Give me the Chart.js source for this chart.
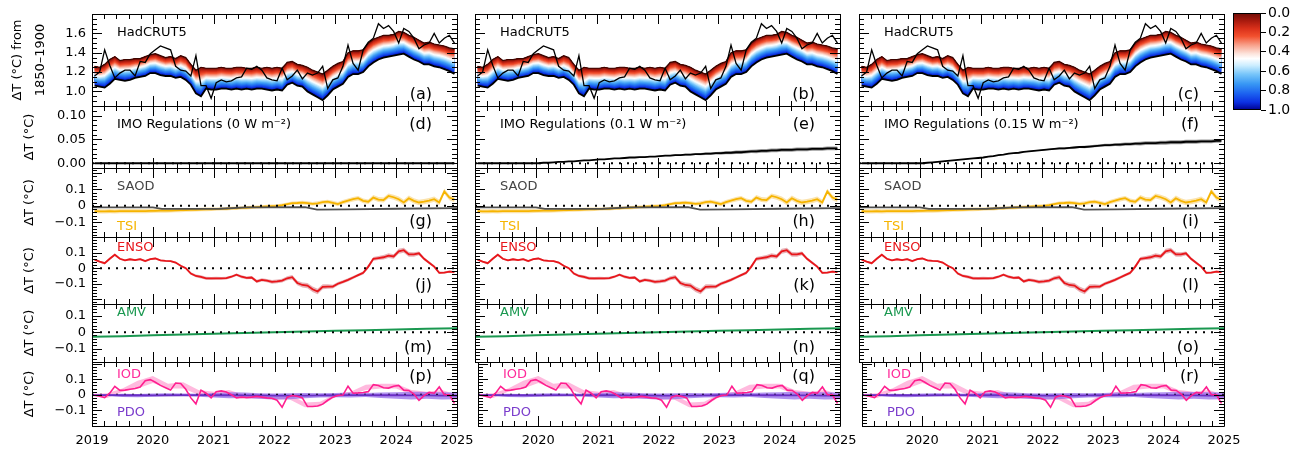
<!DOCTYPE html>
<html>
<head>
<meta charset="utf-8">
<script src="https://cdn.jsdelivr.net/npm/chart.js@4.4.1/dist/chart.umd.min.js"></script>
<style>
  html, body { margin: 0; padding: 0; background: #fff; }
  body { width: 1306px; height: 451px; position: relative; overflow: hidden; }
  canvas { position: absolute; }
</style>
</head>
<body>
<script>
const FONT = "'DejaVu Sans', sans-serif";
Chart.defaults.font.family = FONT;
Chart.defaults.color = '#000';

// monthly time axis, Jan 2019 .. Dec 2024
const months = Array.from({length: 72}, (_, i) => 2019 + (i + 0.5) / 12);
const quarters = Array.from({length: 25}, (_, i) => 2019 + i * 0.25);
const halfYears = Array.from({length: 13}, (_, i) => 2019 + i * 0.5);

const hadcrut = [
  1.16,1.20,1.43,1.27,1.14,1.19,1.22,1.22,1.16,1.31,1.30,1.39,
  1.43,1.47,1.45,1.43,1.26,1.22,1.21,1.16,1.37,1.06,1.06,0.93,
  1.09,1.12,1.10,1.11,1.14,1.15,1.24,1.23,1.26,1.22,1.14,1.12,
  1.11,1.24,1.12,1.16,1.22,1.13,1.19,1.17,1.19,1.26,1.03,1.12,
  1.14,1.26,1.48,1.29,1.22,1.43,1.51,1.55,1.70,1.65,1.68,1.62,
  1.50,1.65,1.62,1.55,1.44,1.48,1.50,1.60,1.50,1.55,1.58,1.50
];
const modelUpper = [
  1.26,1.25,1.28,1.33,1.36,1.32,1.33,1.33,1.34,1.34,1.36,1.38,
  1.39,1.37,1.35,1.36,1.34,1.37,1.35,1.28,1.22,1.25,1.24,1.24,
  1.24,1.25,1.24,1.24,1.25,1.25,1.24,1.24,1.25,1.24,1.25,1.24,
  1.25,1.24,1.30,1.31,1.28,1.27,1.25,1.22,1.20,1.18,1.22,1.26,
  1.29,1.31,1.40,1.42,1.42,1.43,1.50,1.54,1.56,1.58,1.58,1.59,
  1.62,1.61,1.58,1.56,1.53,1.50,1.51,1.49,1.48,1.47,1.45,1.44
];
const modelLower = [
  1.06,1.05,1.04,1.08,1.13,1.12,1.11,1.12,1.14,1.15,1.16,1.19,
  1.19,1.17,1.16,1.16,1.14,1.15,1.12,1.07,0.98,0.95,1.03,1.02,
  1.02,1.03,1.03,1.02,1.03,1.02,1.03,1.02,1.03,1.03,1.02,1.01,
  1.02,1.01,1.07,1.09,1.06,1.05,1.00,0.97,0.94,0.91,0.96,1.02,
  1.05,1.08,1.15,1.18,1.18,1.20,1.26,1.30,1.33,1.35,1.36,1.37,
  1.38,1.39,1.36,1.33,1.31,1.28,1.28,1.26,1.25,1.23,1.21,1.18
];

const imo0 = [
  0,0,0,0,0,0,0,0,0,0,0,0, 0,0,0,0,0,0,0,0,0,0,0,0, 0,0,0,0,0,0,0,0,0,0,0,0,
  0,0,0,0,0,0,0,0,0,0,0,0, 0,0,0,0,0,0,0,0,0,0,0,0, 0,0,0,0,0,0,0,0,0,0,0,0
];
const imo01 = [
  0,0,0,0,0,0,0,0,0,0,0,0,
  0.000,0.001,0.001,0.002,0.003,0.003,0.004,0.004,0.005,0.006,0.006,0.007,
  0.008,0.008,0.009,0.010,0.010,0.011,0.012,0.012,0.013,0.013,0.014,0.014,
  0.015,0.016,0.016,0.017,0.017,0.018,0.018,0.019,0.019,0.020,0.020,0.021,
  0.021,0.022,0.022,0.023,0.023,0.024,0.025,0.025,0.026,0.026,0.027,0.027,
  0.028,0.028,0.028,0.029,0.029,0.029,0.030,0.030,0.030,0.031,0.031,0.031
];
const imo015 = [
  0,0,0,0,0,0,0,0,0,0,0,0,
  0.000,0.001,0.002,0.003,0.004,0.005,0.006,0.007,0.008,0.009,0.010,0.011,
  0.012,0.014,0.015,0.017,0.018,0.020,0.021,0.022,0.024,0.025,0.026,0.027,
  0.028,0.029,0.030,0.031,0.031,0.032,0.033,0.034,0.034,0.035,0.036,0.037,
  0.038,0.038,0.039,0.039,0.040,0.040,0.041,0.041,0.042,0.042,0.042,0.043,
  0.043,0.044,0.044,0.044,0.045,0.045,0.045,0.046,0.046,0.046,0.047,0.047
];
const imoSpread = [
  0,0,0,0,0,0,0,0,0,0,0,0,
  0.0005,0.0005,0.0005,0.0005,0.0005,0.0005,0.0005,0.0005,0.0005,0.0005,0.0005,0.0005,
  0.001,0.001,0.001,0.001,0.001,0.001,0.001,0.001,0.001,0.001,0.001,0.001,
  0.0015,0.0015,0.0015,0.002,0.002,0.002,0.002,0.002,0.0025,0.0025,0.0025,0.0025,
  0.003,0.003,0.003,0.0035,0.0035,0.0035,0.0035,0.004,0.004,0.004,0.004,0.004,
  0.004,0.004,0.004,0.004,0.004,0.004,0.004,0.004,0.004,0.004,0.004,0.004
];

const saodYears = [2019.0, 2020.0, 2020.15, 2021.1, 2021.55, 2022.5, 2022.7, 2023.2, 2024.0, 2025.0];
const saod = [-0.010, -0.010, -0.019, -0.018, -0.010, -0.008, -0.023, -0.022, -0.018, -0.014];

const tsi = [
  -0.033,-0.034,-0.034,-0.033,-0.034,-0.033,-0.032,-0.033,-0.032,-0.032,-0.032,-0.031,
  -0.031,-0.030,-0.030,-0.029,-0.028,-0.027,-0.026,-0.025,-0.024,-0.023,-0.022,-0.021,
  -0.020,-0.019,-0.018,-0.016,-0.015,-0.013,-0.012,-0.010,-0.008,-0.006,-0.004,-0.002,
  0.000,0.004,0.010,0.016,0.017,0.019,0.016,0.012,0.015,0.022,0.025,0.018,
  0.010,0.022,0.032,0.040,0.046,0.030,0.025,0.050,0.038,0.035,0.060,0.052,
  0.040,0.020,0.046,0.030,0.020,0.025,0.032,0.040,0.020,0.087,0.050,0.038
];
const tsiSpread = [
  0.013,0.013,0.013,0.013,0.013,0.013,0.013,0.013,0.013,0.013,0.013,0.013,
  0.012,0.012,0.012,0.012,0.012,0.012,0.011,0.011,0.011,0.011,0.011,0.011,
  0.010,0.010,0.010,0.010,0.010,0.010,0.010,0.010,0.010,0.010,0.010,0.010,
  0.010,0.010,0.010,0.010,0.011,0.011,0.011,0.011,0.012,0.012,0.012,0.012,
  0.013,0.013,0.013,0.014,0.014,0.014,0.014,0.015,0.015,0.015,0.015,0.015,
  0.016,0.016,0.016,0.016,0.016,0.016,0.016,0.016,0.016,0.016,0.016,0.016
];

const enso = [
  0.055,0.042,0.032,0.060,0.086,0.060,0.050,0.057,0.052,0.058,0.045,0.058,
  0.062,0.050,0.047,0.045,0.036,0.015,0.000,-0.035,-0.050,-0.056,-0.065,-0.066,
  -0.065,-0.066,-0.064,-0.055,-0.042,-0.055,-0.062,-0.060,-0.085,-0.075,-0.080,-0.088,
  -0.085,-0.080,-0.065,-0.058,-0.095,-0.108,-0.112,-0.135,-0.150,-0.120,-0.118,-0.118,
  -0.100,-0.088,-0.075,-0.060,-0.045,-0.030,0.010,0.060,0.065,0.070,0.080,0.075,
  0.108,0.115,0.088,0.088,0.095,0.060,0.035,0.010,-0.030,-0.028,-0.022,-0.025
];
const ensoSpread = [
  0.006,0.006,0.008,0.008,0.007,0.006,0.006,0.006,0.006,0.007,0.007,0.006,
  0.006,0.006,0.006,0.006,0.006,0.006,0.007,0.008,0.009,0.010,0.010,0.010,
  0.010,0.009,0.009,0.008,0.008,0.009,0.009,0.010,0.010,0.011,0.011,0.012,
  0.012,0.012,0.013,0.014,0.015,0.016,0.017,0.018,0.018,0.016,0.014,0.012,
  0.011,0.010,0.010,0.009,0.009,0.010,0.012,0.012,0.013,0.014,0.015,0.015,
  0.016,0.016,0.015,0.014,0.012,0.010,0.009,0.008,0.008,0.007,0.007,0.007
];

const amv = [-0.028, -0.024, -0.019, -0.014, -0.010, -0.005, -0.001, 0.004, 0.008, 0.012, 0.016, 0.020, 0.023];

const iod = [
  -0.002,-0.010,-0.018,0.010,0.054,0.028,0.030,0.035,0.040,0.050,0.090,0.097,
  0.080,0.060,0.045,0.030,0.075,0.072,0.035,-0.020,-0.058,0.030,0.010,-0.020,
  0.020,0.025,0.018,0.000,-0.020,-0.015,-0.018,-0.015,-0.010,-0.015,-0.020,-0.022,
  -0.035,-0.080,-0.015,-0.005,-0.010,-0.020,-0.075,-0.075,-0.072,-0.060,-0.035,-0.015,
  -0.005,-0.002,0.055,0.010,0.012,0.015,0.020,0.065,0.060,0.045,0.043,0.055,
  0.060,0.030,0.028,0.005,-0.036,-0.005,0.015,0.010,0.050,0.000,0.000,-0.055
];
const iodLow = [-0.010,-0.020,0.020,0.040,0.075,0.040,0.040,0.000,-0.010,0.000,-0.020,-0.025,-0.030,-0.030,-0.080,-0.075,-0.015,0.000,0.030,0.040,0.040,0.000,-0.010,0.000,-0.030];
const iodHigh = [0.005,0.010,0.040,0.090,0.120,0.070,0.080,0.030,0.020,0.030,0.000,-0.005,-0.010,0.000,-0.050,-0.045,0.005,0.020,0.065,0.070,0.070,0.030,0.020,0.030,0.000];

const pdo = [-0.002,-0.002,-0.003,-0.003,-0.004,-0.003,-0.003,-0.002,-0.003,-0.003,-0.004,-0.004,-0.005,-0.005,-0.005,-0.004,-0.003,-0.002,-0.002,-0.003,-0.003,-0.004,-0.004,-0.005,-0.005];
const pdoLow = [-0.005,-0.008,-0.014,-0.016,-0.012,-0.010,-0.008,-0.012,-0.018,-0.022,-0.020,-0.026,-0.030,-0.028,-0.022,-0.018,-0.016,-0.018,-0.015,-0.020,-0.025,-0.030,-0.026,-0.030,-0.028];
const pdoHigh = [0.002,0.004,0.006,0.005,0.008,0.010,0.008,0.006,0.012,0.016,0.014,0.010,0.008,0.010,0.012,0.010,0.012,0.014,0.012,0.015,0.016,0.020,0.018,0.016,0.014];

const imoLabels = ['IMO Regulations (0 W m⁻²)', 'IMO Regulations (0.1 W m⁻²)', 'IMO Regulations (0.15 W m⁻²)'];
const letters = 'abcdefghijklmnopqr';
const cbTicks = [0, 0.2, 0.4, 0.6, 0.8, 1.0];

// colour map used for the model spread (0 = top, 1 = bottom)
const cmapStops = [
  [0, '#6e0c06'], [0.08, '#a81a0e'], [0.16, '#d9301a'], [0.24, '#f2502e'], [0.33, '#f8a08a'],
  [0.42, '#fde4dc'], [0.47, '#ffffff'], [0.54, '#cdeeff'], [0.63, '#78c6fa'], [0.73, '#3898f4'],
  [0.83, '#1c62f0'], [0.92, '#0c30e2'], [1, '#00008e']
];
function hexRgb(h) { return [1, 3, 5].map(i => parseInt(h.substr(i, 2), 16)); }
function cmap(f) {
  for (let i = 1; i < cmapStops.length; i++) {
    const [f1, c1] = cmapStops[i];
    if (f <= f1) {
      const [f0, c0] = cmapStops[i - 1];
      const t = (f - f0) / (f1 - f0);
      const a = hexRgb(c0), b = hexRgb(c1);
      return 'rgb(' + a.map((v, k) => Math.round(v + (b[k] - v) * t)).join(',') + ')';
    }
  }
  return cmapStops[cmapStops.length - 1][1];
}

const pts = (xs, ys) => xs.map((x, i) => ({x, y: ys[i]}));
const clear = 'rgba(0,0,0,0)';
const line = (xs, ys, color, w) => ({data: pts(xs, ys), borderColor: color, borderWidth: w, pointRadius: 0, fill: false});
const zero = () => ({data: [{x: 2019, y: 0}, {x: 2025, y: 0}], borderColor: '#000', borderWidth: 2, borderDash: [2, 6], pointRadius: 0, fill: false});
const band = (xs, lo, hi, color) => [
  {data: pts(xs, hi), borderColor: clear, borderWidth: 1, pointRadius: 0, fill: '+1', backgroundColor: color},
  {data: pts(xs, lo), borderColor: clear, borderWidth: 1, pointRadius: 0, fill: false}
];
const spreadBand = (xs, v, s, color) => band(xs, v.map((y, i) => y - s[i]), v.map((y, i) => y + s[i]), color);

function heatPanel() {
  const sets = [
    line(months, hadcrut, '#000', 1.3),
    line(months, modelLower, '#000', 1.8),
    line(months, modelUpper, '#3a0500', 1.2)
  ];
  const n = 22;
  for (let k = 1; k <= n; k++) {
    sets.push({
      data: months.map((x, i) => ({x, y: modelUpper[i] - (modelUpper[i] - modelLower[i]) * k / n})),
      borderColor: clear, borderWidth: 1, pointRadius: 0, fill: 2, backgroundColor: cmap((k - 0.5) / n)
    });
  }
  return sets;
}

const idlFrame = {
  id: 'idlFrame',
  afterDatasetsDraw(chart, args, o) {
    const {ctx, chartArea: a, scales: {x, y}} = chart;
    const marks = (min, max, minor, major) => {
      const out = [];
      for (let n = Math.ceil(min / minor - 1e-6); n <= Math.floor(max / minor + 1e-6); n++) {
        const v = n * minor, r = v / major;
        out.push([v, Math.abs(r - Math.round(r)) < 1e-6]);
      }
      return out;
    };
    ctx.save();
    ctx.strokeStyle = '#000';
    ctx.lineWidth = 1;
    ctx.beginPath();
    marks(x.min, x.max, o.xMinor, o.xMajor).forEach(([v, big]) => {
      const p = Math.round(x.getPixelForValue(v)) + 0.5, len = big ? 10 : 5;
      ctx.moveTo(p, a.bottom); ctx.lineTo(p, a.bottom - len);
      ctx.moveTo(p, a.top); ctx.lineTo(p, a.top + len);
    });
    marks(y.min, y.max, o.yMinor, o.yMajor).forEach(([v, big]) => {
      const p = Math.round(y.getPixelForValue(v)) + 0.5, len = big ? 10 : 5;
      ctx.moveTo(a.left, p); ctx.lineTo(a.left + len, p);
      ctx.moveTo(a.right, p); ctx.lineTo(a.right - len, p);
    });
    ctx.rect(a.left + 0.5, a.top + 0.5, a.right - a.left, a.bottom - a.top);
    ctx.stroke();
    ctx.restore();
  }
};

const panelText = {
  id: 'panelText',
  afterDraw(chart, args, o) {
    const {ctx, chartArea: a} = chart;
    o.items.forEach(t => {
      ctx.save();
      ctx.font = (t.size || 13) + 'px ' + FONT;
      ctx.fillStyle = t.color || '#000';
      ctx.textBaseline = 'middle';
      ctx.textAlign = t.right ? 'right' : 'left';
      const px = t.right ? a.right - t.dx : a.left + t.dx;
      const py = t.bottom ? a.bottom - t.dy : a.top + t.dy;
      ctx.fillText(t.text, px, py);
      ctx.restore();
    });
  }
};

const colLeft = [92, 475, 859];
const colW = 365;
const rowBox = [[14, 92], [106, 62], [168, 69], [237, 67], [304, 58], [362, 64]];
const rowY = [
  {min: 0.85, max: 1.8, major: 0.2, minor: 0.05, labels: [1.0, 1.2, 1.4, 1.6], fmt: v => v.toFixed(1)},
  {min: -0.01, max: 0.12, major: 0.05, minor: 0.01, labels: [0, 0.05, 0.1], fmt: v => v.toFixed(2)},
  {min: -0.19, max: 0.23, major: 0.1, minor: 0.02, labels: [-0.1, 0, 0.1]},
  {min: -0.23, max: 0.2, major: 0.1, minor: 0.02, labels: [-0.1, 0, 0.1]},
  {min: -0.18, max: 0.17, major: 0.1, minor: 0.02, labels: [-0.1, 0, 0.1]},
  {min: -0.2, max: 0.21, major: 0.1, minor: 0.02, labels: [-0.1, 0, 0.1]}
];
const smallFmt = v => Math.abs(v) < 1e-9 ? '0' : (v < 0 ? '−' : '') + Math.abs(v).toFixed(1);

function rowSets(row, col) {
  if (row === 0) return heatPanel();
  if (row === 1) {
    const v = [imo0, imo01, imo015][col];
    const s = [line(months, v, '#000', 1.8), zero()];
    return col === 0 ? s : s.concat(spreadBand(months, v, imoSpread, '#9a9a9a'));
  }
  if (row === 2) return [zero(), line(saodYears, saod, '#505050', 1.8), line(months, tsi, '#f6b400', 1.8)]
    .concat(spreadBand(months, tsi, tsiSpread, 'rgba(248,200,90,0.5)'));
  if (row === 3) return [zero(), line(months, enso, '#e8161b', 1.8)]
    .concat(spreadBand(months, enso, ensoSpread, 'rgba(210,100,110,0.5)'));
  if (row === 4) return [zero(), line(halfYears, amv, '#1a9850', 2)];
  return [line(months, iod, '#ff1f8f', 1.6), line(quarters, pdo, '#6a2fc4', 1.8), zero()]
    .concat(band(quarters, pdoLow, pdoHigh, 'rgba(150,110,235,0.75)'))
    .concat(band(quarters, iodLow, iodHigh, 'rgba(255,130,195,0.55)'));
}

function rowText(row, col) {
  const L = {text: '(' + letters[row * 3 + col] + ')', right: true, dx: 25, size: 16};
  if (row === 0) return [{text: 'HadCRUT5', dx: 25, dy: 19}, Object.assign(L, {bottom: true, dy: 11})];
  if (row === 1) return [{text: imoLabels[col], dx: 25, dy: 19}, Object.assign(L, {dy: 19})];
  if (row === 2) return [{text: 'SAOD', dx: 25, dy: 19, color: '#444'}, {text: 'TSI', dx: 25, dy: 10, bottom: true, color: '#f6b400'}, Object.assign(L, {bottom: true, dy: 15})];
  if (row === 3) return [{text: 'ENSO', dx: 25, dy: 11, color: '#e8161b'}, Object.assign(L, {bottom: true, dy: 18})];
  if (row === 4) return [{text: 'AMV', dx: 25, dy: 9, color: '#1a9850'}, Object.assign(L, {bottom: true, dy: 14})];
  return [{text: 'IOD', dx: 25, dy: 13, color: '#ff2a9a'}, {text: 'PDO', dx: 25, dy: 13, bottom: true, color: '#7a3ccc'}, Object.assign(L, {dy: 15})];
}

function makePanel(row, col) {
  const [T, H] = rowBox[row];
  const L = colLeft[col];
  const ycfg = rowY[row];
  const showX = row === 5, showY = col === 0;
  // generous margins so that tick-label overhang never shrinks the plot box
  const padL = showY ? L : 4, padT = 18, padR = 32, padB = showX ? 26 : 18;
  const cv = document.createElement('canvas');
  cv.width = colW + padL + padR;
  cv.height = H + padT + padB;
  cv.style.left = (L - padL) + 'px';
  cv.style.top = (T - padT) + 'px';
  document.body.appendChild(cv);
  const fmt = ycfg.fmt || smallFmt;
  new Chart(cv, {
    type: 'line',
    data: {datasets: rowSets(row, col)},
    options: {
      responsive: false, animation: false, events: [],
      layout: {padding: {left: showY ? 0 : padL, top: padT, right: padR, bottom: showX ? 0 : padB}},
      plugins: {
        legend: {display: false}, tooltip: {enabled: false},
        idlFrame: {xMajor: 1, xMinor: 0.2, yMajor: ycfg.major, yMinor: ycfg.minor},
        panelText: {items: rowText(row, col)}
      },
      scales: {
        x: {
          type: 'linear', min: 2019, max: 2025, display: showX,
          afterFit: showX ? (s => { s.height = padB; }) : undefined,
          grid: {display: false, drawTicks: false}, border: {display: false},
          ticks: {stepSize: 1, autoSkip: false, maxRotation: 0, padding: 7, font: {size: 13},
            callback: v => (col > 0 && v === 2019) ? '' : String(v)}
        },
        y: {
          type: 'linear', min: ycfg.min, max: ycfg.max, display: showY,
          afterFit: showY ? (s => { s.width = padL; }) : undefined,
          grid: {display: false, drawTicks: false}, border: {display: false},
          ticks: {stepSize: ycfg.major, includeBounds: false, autoSkip: false, padding: 6, font: {size: 13},
            callback: v => ycfg.labels.some(l => Math.abs(l - v) < 1e-6) ? fmt(v) : ''},
          title: {display: true, text: row === 0 ? ['ΔT (°C) from', '1850–1900'] : 'ΔT (°C)',
            font: {size: 13, lineHeight: 1.7}, padding: {top: row === 0 ? 7 : 19, bottom: 0}}
        }
      }
    },
    plugins: [idlFrame, panelText]
  });
}

for (let r = 0; r < 6; r++) for (let c = 0; c < 3; c++) makePanel(r, c);

// colour bar
const colorBar = {
  id: 'colorBar',
  beforeDatasetsDraw(chart) {
    const {ctx, chartArea: a, scales: {y}} = chart;
    const g = ctx.createLinearGradient(0, y.getPixelForValue(0), 0, y.getPixelForValue(1));
    cmapStops.forEach(([f, c]) => g.addColorStop(f, c));
    ctx.save();
    ctx.fillStyle = g;
    ctx.fillRect(a.left, a.top, a.right - a.left, a.bottom - a.top);
    ctx.strokeStyle = '#000';
    ctx.lineWidth = 1;
    ctx.strokeRect(a.left + 0.5, a.top + 0.5, a.right - a.left - 1, a.bottom - a.top - 1);
    ctx.restore();
  }
};
const cb = document.createElement('canvas');
cb.width = 28 + 45;
cb.height = 97 + 36;
cb.style.left = '1233px';
cb.style.top = '-5px';
document.body.appendChild(cb);
new Chart(cb, {
  type: 'line',
  data: {datasets: []},
  options: {
    responsive: false, animation: false, events: [],
    layout: {padding: {left: 0, top: 18, right: 0, bottom: 18}},
    plugins: {legend: {display: false}, tooltip: {enabled: false}},
    scales: {
      x: {type: 'linear', display: false, min: 0, max: 1},
      y: {
        position: 'right', min: 0, max: 1, reverse: true,
        afterFit: s => { s.width = 45; },
        afterBuildTicks: s => { s.ticks = cbTicks.map(v => ({value: v})); },
        grid: {drawOnChartArea: false, drawTicks: true, tickLength: 5, color: '#000'},
        border: {display: false},
        ticks: {autoSkip: false, padding: 2, font: {size: 14}, callback: v => v.toFixed(1)}
      }
    }
  },
  plugins: [colorBar]
});
</script>
</body>
</html>
